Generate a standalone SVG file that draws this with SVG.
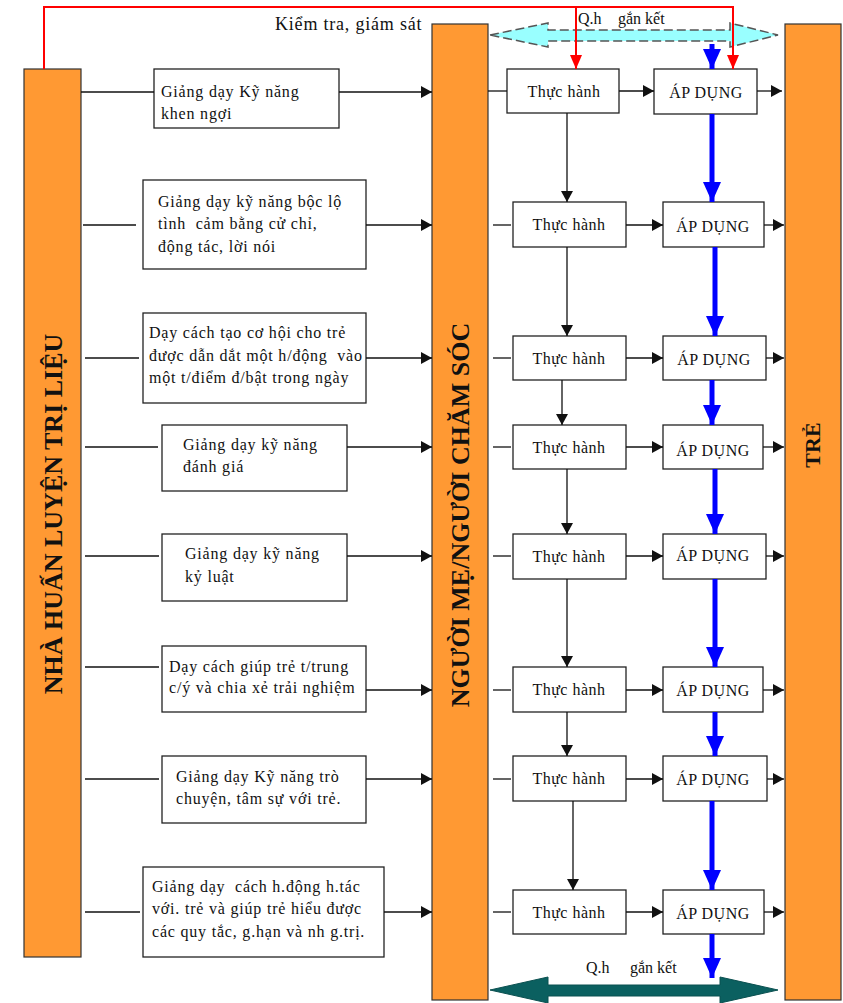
<svg xmlns="http://www.w3.org/2000/svg" width="843" height="1003" viewBox="0 0 843 1003">
<defs>
<style>
.bar{fill:#FF9933;stroke:#333;stroke-width:1.2}
.box{fill:#fff;stroke:#222;stroke-width:1.3}
.t{font-family:"Liberation Serif","Times New Roman",serif;font-size:16px;letter-spacing:0.8px;fill:#111}
.s{font-family:"Liberation Serif","Times New Roman",serif;font-size:16px;letter-spacing:0.5px;fill:#111;text-anchor:middle}
.lb{font-family:"Liberation Serif","Times New Roman",serif;fill:#111}
.vt{font-family:"Liberation Serif","Times New Roman",serif;font-weight:bold;fill:#111;text-anchor:middle}
.blk{stroke:#111;stroke-width:1.3;fill:none}
.blue{stroke:#0000FF;stroke-width:5;fill:none}
.red{stroke:#FF0000;stroke-width:2;fill:none}
</style>
<marker id="ab" markerUnits="userSpaceOnUse" markerWidth="12" markerHeight="12" refX="11" refY="6" orient="auto"><path d="M0,0 L11,6 L0,12 z" fill="#111"/></marker>
<marker id="abl" markerUnits="userSpaceOnUse" markerWidth="20" markerHeight="18" refX="20" refY="9" orient="auto"><path d="M0,0 L20,9 L0,18 z" fill="#0000FF"/></marker>
<marker id="ar" markerUnits="userSpaceOnUse" markerWidth="14" markerHeight="12" refX="14" refY="6" orient="auto"><path d="M0,0 L14,6 L0,12 z" fill="#FF0000"/></marker>
</defs>

<g id="coach"><rect class="bar" x="24" y="69" width="57" height="888"/><text class="vt" font-size="26" transform="translate(62,514) rotate(-90)">NHÀ HUẤN LUYỆN TRỊ LIỆU</text></g>
<g id="parent"><rect class="bar" x="432" y="24" width="56" height="976"/><text class="vt" font-size="26" transform="translate(469,515) rotate(-90)">NGƯỜI MẸ/NGƯỜI CHĂM SÓC</text></g>
<g id="child"><rect class="bar" x="785" y="24" width="56" height="976"/><text class="vt" font-size="22" transform="translate(820,445) rotate(-90)">TRẺ</text></g>

<g id="label-kiemtra"><text class="lb" x="275" y="30" font-size="18" letter-spacing="0.8">Kiểm tra, giám sát</text></g>
<g id="label-qh-top"><text class="lb" x="578" y="24" font-size="16">Q.h<tspan x="618">gắn kết</tspan></text></g>
<g id="label-qh-bottom"><text class="lb" x="586" y="973" font-size="16">Q.h<tspan x="630">gắn kết</tspan></text></g>

<g id="bond-top"><path d="M490,35 L548,23 L548,30 L730,30 L730,23 L778,35 L730,47 L730,41 L548,41 L548,47 Z" fill="#99FFFF" stroke="#555" stroke-width="1.5" stroke-dasharray="9,4"/></g>
<g id="bond-bottom"><path d="M490,990 L548,977 L548,985 L720,985 L720,977 L778,990 L720,1003 L720,996 L548,996 L548,1003 Z" fill="#0B6060" stroke="#0B5050" stroke-width="1"/></g>

<g id="skill1"><rect class="box" x="154" y="69" width="185" height="59"/><text class="t" x="161" y="97">Giảng dạy Kỹ năng</text><text class="t" x="161" y="119">khen ngợi</text></g>
<g id="skill2"><rect class="box" x="143" y="180" width="223" height="89"/><text class="t" x="158" y="207">Giảng dạy kỹ năng bộc lộ</text><text class="t" x="158" y="229" xml:space="preserve">tình  cảm bằng cử chỉ,</text><text class="t" x="158" y="252">động tác, lời nói</text></g>
<g id="skill3"><rect class="box" x="143" y="313" width="223" height="90"/><text class="t" x="149" y="338">Dạy cách tạo cơ hội cho trẻ</text><text class="t" x="149" y="361" xml:space="preserve">được dẫn dắt một h/động  vào</text><text class="t" x="149" y="383">một t/điểm đ/bật trong ngày</text></g>
<g id="skill4"><rect class="box" x="162" y="425" width="185" height="66"/><text class="t" x="183" y="450">Giảng dạy kỹ năng</text><text class="t" x="183" y="472">đánh giá</text></g>
<g id="skill5"><rect class="box" x="162" y="534" width="185" height="67"/><text class="t" x="185" y="559">Giảng dạy kỹ năng</text><text class="t" x="185" y="582">kỷ luật</text></g>
<g id="skill6"><rect class="box" x="162" y="646" width="204" height="66"/><text class="t" x="169" y="672">Dạy cách giúp trẻ t/trung</text><text class="t" x="169" y="693">c/ý và chia xẻ trải nghiệm</text></g>
<g id="skill7"><rect class="box" x="162" y="756" width="204" height="67"/><text class="t" x="176" y="782">Giảng dạy Kỹ năng trò</text><text class="t" x="176" y="804">chuyện, tâm sự với trẻ.</text></g>
<g id="skill8"><rect class="box" x="143" y="867" width="241" height="90"/><text class="t" x="152" y="892" xml:space="preserve">Giảng dạy  cách h.động h.tác</text><text class="t" x="152" y="914">với. trẻ và giúp trẻ hiểu được</text><text class="t" x="152" y="937">các quy tắc, g.hạn và nh g.trị.</text></g>

<g id="practice1"><rect class="box" x="507" y="69" width="112" height="44"/><text class="s" x="564" y="97">Thực hành</text></g>
<g id="apply1"><rect class="box" x="654" y="69" width="103" height="45"/><text class="s" x="706" y="98">ÁP DỤNG</text></g>
<g id="practice2"><rect class="box" x="513" y="202" width="113" height="45"/><text class="s" x="569" y="230">Thực hành</text></g>
<g id="apply2"><rect class="box" x="663" y="202" width="101" height="45"/><text class="s" x="713" y="232">ÁP DỤNG</text></g>
<g id="practice3"><rect class="box" x="513" y="336" width="113" height="44"/><text class="s" x="569" y="364">Thực hành</text></g>
<g id="apply3"><rect class="box" x="663" y="336" width="103" height="44"/><text class="s" x="714" y="365">ÁP DỤNG</text></g>
<g id="practice4"><rect class="box" x="513" y="425" width="113" height="44"/><text class="s" x="569" y="453">Thực hành</text></g>
<g id="apply4"><rect class="box" x="663" y="425" width="100" height="44"/><text class="s" x="713" y="456">ÁP DỤNG</text></g>
<g id="practice5"><rect class="box" x="513" y="534" width="113" height="45"/><text class="s" x="569" y="562">Thực hành</text></g>
<g id="apply5"><rect class="box" x="663" y="534" width="103" height="45"/><text class="s" x="713" y="561">ÁP DỤNG</text></g>
<g id="practice6"><rect class="box" x="513" y="667" width="113" height="45"/><text class="s" x="569" y="695">Thực hành</text></g>
<g id="apply6"><rect class="box" x="663" y="667" width="100" height="45"/><text class="s" x="713" y="696">ÁP DỤNG</text></g>
<g id="practice7"><rect class="box" x="513" y="756" width="113" height="45"/><text class="s" x="569" y="784">Thực hành</text></g>
<g id="apply7"><rect class="box" x="663" y="756" width="104" height="45"/><text class="s" x="713" y="785">ÁP DỤNG</text></g>
<g id="practice8"><rect class="box" x="513" y="890" width="113" height="44"/><text class="s" x="569" y="918">Thực hành</text></g>
<g id="apply8"><rect class="box" x="663" y="890" width="101" height="44"/><text class="s" x="713" y="919">ÁP DỤNG</text></g>

<g id="connectors">
<path class="red" d="M44,69 L44,7 L733,7 L733,69" marker-end="url(#ar)"/>
<path class="red" d="M576,7 L576,69" marker-end="url(#ar)"/>
<path class="blue" d="M712,44 L712,69" marker-end="url(#abl)"/>

<path class="blk" d="M81,92 L154,92"/>
<path class="blk" d="M339,92 L432,92" marker-end="url(#ab)"/>
<path class="blk" d="M83,225 L136,225"/>
<path class="blk" d="M366,225 L432,225" marker-end="url(#ab)"/>
<path class="blk" d="M85,358 L139,358"/>
<path class="blk" d="M366,358 L432,358" marker-end="url(#ab)"/>
<path class="blk" d="M85,447 L158,447"/>
<path class="blk" d="M347,447 L432,447" marker-end="url(#ab)"/>
<path class="blk" d="M85,556 L159,556"/>
<path class="blk" d="M347,556 L432,556" marker-end="url(#ab)"/>
<path class="blk" d="M85,667 L159,667"/>
<path class="blk" d="M366,690 L432,690" marker-end="url(#ab)"/>
<path class="blk" d="M85,779 L159,779"/>
<path class="blk" d="M366,779 L432,779" marker-end="url(#ab)"/>
<path class="blk" d="M85,912 L140,912"/>
<path class="blk" d="M384,912 L432,912" marker-end="url(#ab)"/>

<path class="blk" d="M488,91 L507,91"/>
<path class="blk" d="M493,225 L511,225"/>
<path class="blk" d="M493,358 L511,358"/>
<path class="blk" d="M493,447 L511,447"/>
<path class="blk" d="M493,556 L511,556"/>
<path class="blk" d="M493,690 L511,690"/>
<path class="blk" d="M493,779 L511,779"/>
<path class="blk" d="M493,912 L511,912"/>

<path class="blk" d="M619,91 L654,91" marker-end="url(#ab)"/>
<path class="blk" d="M626,225 L663,225" marker-end="url(#ab)"/>
<path class="blk" d="M626,358 L663,358" marker-end="url(#ab)"/>
<path class="blk" d="M626,447 L663,447" marker-end="url(#ab)"/>
<path class="blk" d="M626,556 L663,556" marker-end="url(#ab)"/>
<path class="blk" d="M626,690 L663,690" marker-end="url(#ab)"/>
<path class="blk" d="M626,779 L663,779" marker-end="url(#ab)"/>
<path class="blk" d="M626,912 L663,912" marker-end="url(#ab)"/>

<path class="blk" d="M757,91 L782,91" marker-end="url(#ab)"/>
<path class="blk" d="M764,225 L784,225" marker-end="url(#ab)"/>
<path class="blk" d="M766,358 L784,358" marker-end="url(#ab)"/>
<path class="blk" d="M763,447 L784,447" marker-end="url(#ab)"/>
<path class="blk" d="M766,556 L784,556" marker-end="url(#ab)"/>
<path class="blk" d="M763,690 L784,690" marker-end="url(#ab)"/>
<path class="blk" d="M767,779 L784,779" marker-end="url(#ab)"/>
<path class="blk" d="M764,912 L784,912" marker-end="url(#ab)"/>

<path class="blk" d="M567,113 L567,202" marker-end="url(#ab)"/>
<path class="blk" d="M567,247 L567,336" marker-end="url(#ab)"/>
<path class="blk" d="M562,380 L562,425" marker-end="url(#ab)"/>
<path class="blk" d="M567,469 L567,534" marker-end="url(#ab)"/>
<path class="blk" d="M567,579 L567,667" marker-end="url(#ab)"/>
<path class="blk" d="M567,712 L567,756" marker-end="url(#ab)"/>
<path class="blk" d="M573,801 L573,890" marker-end="url(#ab)"/>

<path class="blue" d="M712,114 L712,202" marker-end="url(#abl)"/>
<path class="blue" d="M715,247 L715,336" marker-end="url(#abl)"/>
<path class="blue" d="M712,380 L712,425" marker-end="url(#abl)"/>
<path class="blue" d="M715,469 L715,534" marker-end="url(#abl)"/>
<path class="blue" d="M715,579 L715,667" marker-end="url(#abl)"/>
<path class="blue" d="M715,712 L715,756" marker-end="url(#abl)"/>
<path class="blue" d="M712,801 L712,890" marker-end="url(#abl)"/>
<path class="blue" d="M712,934 L712,978" marker-end="url(#abl)"/>
</g>
</svg>
